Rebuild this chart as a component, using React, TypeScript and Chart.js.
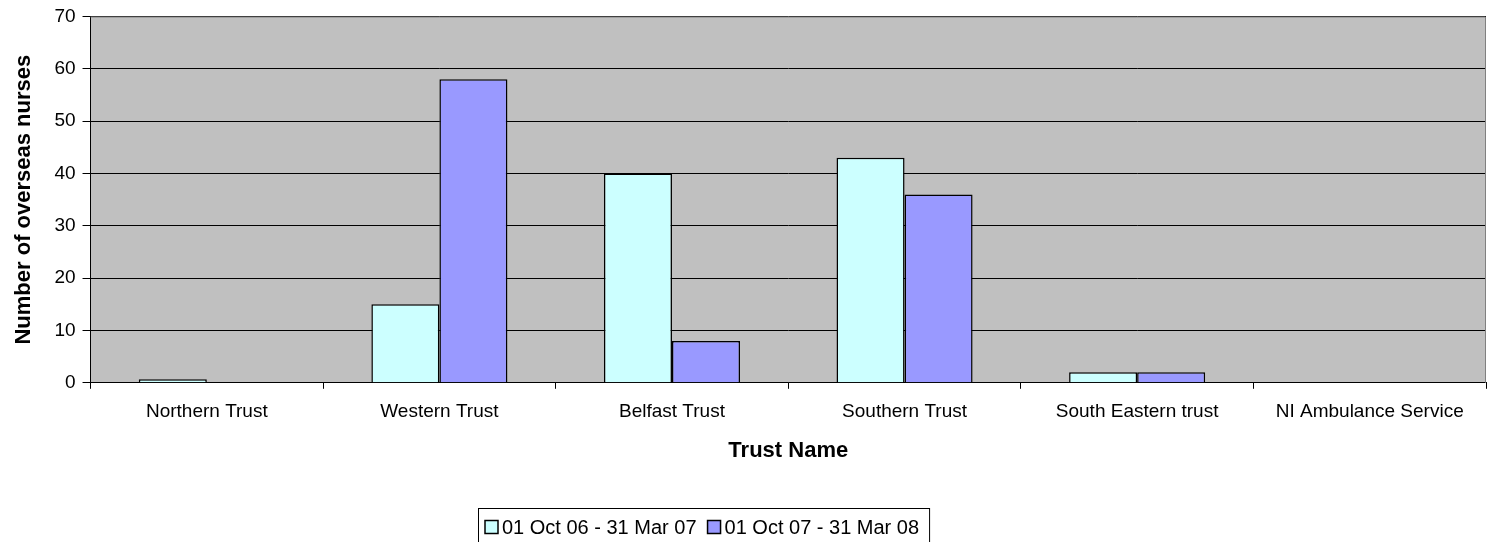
import React, { useEffect, useRef } from "react";
import { Chart, registerables } from "chart.js";

Chart.register(...registerables);

const categories = [
  "Northern Trust",
  "Western Trust",
  "Belfast Trust",
  "Southern Trust",
  "South Eastern trust",
  "NI Ambulance Service",
];
const series1Label = "01 Oct 06 - 31 Mar 07";
const series2Label = "01 Oct 07 - 31 Mar 08";
const series1 = [0.7, 15, 40, 43, 2, 0];
const series2 = [0, 58, 8, 36, 2, 0];
const yTicks = [0, 10, 20, 30, 40, 50, 60, 70];

const FONT = "'Liberation Sans', Arial, sans-serif";

const plotDecor = {
  id: "plotDecor",
  beforeDraw(chart: any) {
    const { ctx, chartArea } = chart;
    ctx.save();
    ctx.fillStyle = "#C0C0C0";
    ctx.fillRect(chartArea.left, chartArea.top, chartArea.right - chartArea.left, chartArea.bottom - chartArea.top);
    ctx.restore();
  },
  afterDraw(chart: any) {
    const { ctx, chartArea } = chart;
    ctx.save();
    // plot border (top / right)
    ctx.strokeStyle = "#808080";
    ctx.lineWidth = 1;
    ctx.beginPath();
    ctx.moveTo(chartArea.left, chartArea.top + 0.5);
    ctx.lineTo(chartArea.right - 0.5, chartArea.top + 0.5);
    ctx.lineTo(chartArea.right - 0.5, chartArea.bottom);
    ctx.stroke();

    // legend
    const legendLeft = 478;
    const legendTop = 508;
    const rowMid = 527;
    const markerSize = 13;
    ctx.font = `20px ${FONT}`;
    ctx.textBaseline = "middle";
    ctx.textAlign = "left";
    let x = legendLeft + 7;
    const items = chart.data.datasets.map((ds: any) => ({ label: ds.label, color: ds.backgroundColor }));
    items.forEach((it: any, i: number) => {
      ctx.fillStyle = it.color;
      ctx.fillRect(x, rowMid - markerSize / 2, markerSize, markerSize);
      ctx.strokeStyle = "#000";
      ctx.lineWidth = 1.5;
      ctx.strokeRect(x, rowMid - markerSize / 2, markerSize, markerSize);
      x += markerSize + 4;
      ctx.fillStyle = "#000";
      ctx.fillText(it.label, x, rowMid + 1);
      x += ctx.measureText(it.label).width;
      if (i < items.length - 1) x += 11;
    });
    const legendRight = x + 10;
    ctx.strokeStyle = "#000";
    ctx.lineWidth = 1;
    ctx.strokeRect(legendLeft + 0.5, legendTop + 0.5, legendRight - legendLeft, 60);
    ctx.restore();
  },
};

export default function App() {
  const ref = useRef<HTMLCanvasElement>(null);
  useEffect(() => {
    if (!ref.current) return;
    const chart = new Chart(ref.current, {
      type: "bar",
      data: {
        labels: categories,
        datasets: [
          {
            label: series1Label,
            data: series1,
            backgroundColor: "#CCFFFF",
            borderColor: "#000000",
            borderWidth: 1.5,
          },
          {
            label: series2Label,
            data: series2,
            backgroundColor: "#9999FF",
            borderColor: "#000000",
            borderWidth: 1.5,
          },
        ],
      },
      options: {
        responsive: false,
        animation: false,
        devicePixelRatio: 1,
        layout: { padding: { left: 0, right: 2, top: 16, bottom: 78 } },
        datasets: { bar: { categoryPercentage: 0.585, barPercentage: 1 } },
        scales: {
          x: {
            grid: {
              display: true,
              offset: true,
              drawOnChartArea: false,
              drawTicks: true,
              tickLength: 6,
              color: "#000",
            },
            border: { display: true, color: "#000", width: 1 },
            ticks: { color: "#000", font: { family: FONT, size: 19 }, padding: 12, maxRotation: 0, autoSkip: false },
            title: {
              display: true,
              text: "Trust Name",
              color: "#000",
              font: { family: FONT, size: 22, weight: "bold" },
              padding: { top: 2, bottom: 0 },
            },
          },
          y: {
            min: yTicks[0],
            max: yTicks[yTicks.length - 1],
            afterBuildTicks: (axis: any) => {
              axis.ticks = yTicks.map((v) => ({ value: v }));
            },
            ticks: { color: "#000", font: { family: FONT, size: 19, lineHeight: 1 }, padding: 7 },
            grid: { color: "#000", lineWidth: 1, tickLength: 8, drawTicks: true },
            border: { display: true, color: "#000", width: 1 },
            title: {
              display: true,
              text: "Number of overseas nurses",
              color: "#000",
              font: { family: FONT, size: 22, weight: "bold" },
              padding: { top: 11, bottom: 10 },
            },
          },
        },
        plugins: {
          legend: { display: false },
          tooltip: { enabled: false },
        },
      },
      plugins: [plotDecor],
    });
    return () => chart.destroy();
  }, []);
  return (
    <div style={{ position: "fixed", left: 0, top: 0, width: 1488, height: 542, overflow: "hidden", background: "#fff" }}>
      <canvas ref={ref} width={1488} height={542} style={{ display: "block" }} />
    </div>
  );
}
